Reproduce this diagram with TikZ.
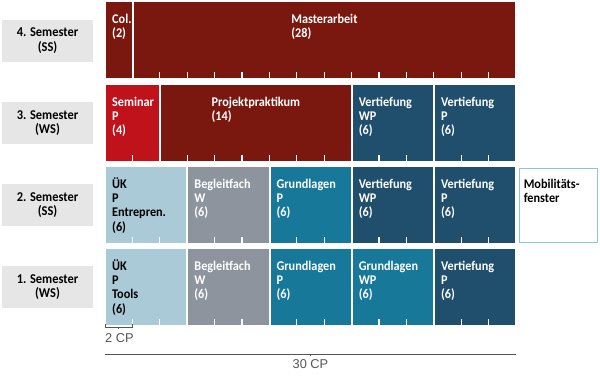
\documentclass[tikz,border=0pt]{standalone}
\usepackage{fontspec}
\usetikzlibrary{calc}
\setmainfont{Liberation Sans}
\newfontfamily\blkfont[FakeStretch=0.92]{Carlito}
\definecolor{mdarkred}{HTML}{7A180F}
\definecolor{mred}{HTML}{C0121A}
\definecolor{mlight}{HTML}{AACAD8}
\definecolor{mgray}{HTML}{8E949E}
\definecolor{mteal}{HTML}{17789A}
\definecolor{mnavy}{HTML}{1F4F6C}
\definecolor{mborder}{HTML}{8CC4DA}
\definecolor{mlabel}{HTML}{E6E6E6}
\definecolor{mline}{HTML}{555555}
\tikzset{
  blockbox/.style={draw=none, inner sep=0, minimum height=75.5pt, anchor=north west},
  blocktext/.style={inner sep=0, align=left, font=\blkfont\bfseries\fontsize{13.3}{14.3}\selectfont},
  semlabel/.style={fill=mlabel, inner sep=0, minimum width=91pt, minimum height=42pt, align=center,
    font=\blkfont\bfseries\fontsize{13.5}{14.8}\selectfont},
  tickline/.style={white, line width=1.3pt},
  scaleline/.style={mline, line width=0.9pt},
  scaletext/.style={text=mline, inner sep=0, font=\fontsize{12.8}{14}\selectfont}
}
\newcommand\cpblock[7]{%
  \node[blockbox, fill=#5, minimum width={(#4-#3)*13.7-2}] (#1) at ({105+#3*13.7+1}, #2) {};
  \node[blocktext, text=#6, anchor=north west] (#1-t) at ([xshift=6pt, yshift=-9.5pt]#1.north west) {\rule{0pt}{11.5pt}#7};
}
\newcommand\cpblockc[7]{%
  \node[blockbox, fill=#5, minimum width={(#4-#3)*13.7-2}] (#1) at ({105+#3*13.7+1}, #2) {};
  \node[blocktext, text=#6, anchor=north] (#1-t) at ([yshift=-9.5pt]#1.north) {\rule{0pt}{11.5pt}#7};
}
\begin{document}
\begin{tikzpicture}[x=1pt, y=-1pt]
\useasboundingbox (0,0) rectangle (600,380);

% semester labels
\node[semlabel] (s4) at (47.5,40.5) {4. Semester\\(SS)};
\node[semlabel] (s3) at (47.5,123) {3. Semester\\(WS)};
\node[semlabel] (s2) at (47.5,205) {2. Semester\\(SS)};
\node[semlabel] (s1) at (47.5,287) {1. Semester\\(WS)};

% row 4
\cpblock{col}{2}{0}{2}{mdarkred}{white}{Col.\\(2)}
\cpblockc{ma}{2}{2}{30}{mdarkred}{white}{Masterarbeit\\(28)}
\foreach \k in {4,6,...,28} \draw[tickline] ({105+\k*13.7},77.5) -- ++(0,-6);

% row 3
\cpblock{sem}{85}{0}{4}{mred}{white}{Seminar\\P\\(4)}
\cpblockc{pp}{85}{4}{18}{mdarkred}{white}{Projektpraktikum\\(14)}
\cpblock{v3a}{85}{18}{24}{mnavy}{white}{Vertiefung\\WP\\(6)}
\cpblock{v3b}{85}{24}{30}{mnavy}{white}{Vertiefung\\P\\(6)}
\foreach \k in {2,6,8,10,12,14,16,20,22,26,28} \draw[tickline] ({105+\k*13.7},160.5) -- ++(0,-6);

% row 2
\cpblock{uk2}{167}{0}{6}{mlight}{black}{ÜK\\P\\Entrepren.\\(6)}
\cpblock{bg2}{167}{6}{12}{mgray}{white}{Begleitfach\\W\\(6)}
\cpblock{gl2}{167}{12}{18}{mteal}{white}{Grundlagen\\P\\(6)}
\cpblock{v2a}{167}{18}{24}{mnavy}{white}{Vertiefung\\WP\\(6)}
\cpblock{v2b}{167}{24}{30}{mnavy}{white}{Vertiefung\\P\\(6)}
\node[blockbox, fill=white, draw=mborder, line width=1.2pt, minimum width=78pt, minimum height=74.5pt] (mob) at (518.6,167.6) {};
\node[blocktext, text=black, anchor=north west] (mob-t) at ([xshift=5pt, yshift=-8.9pt]mob.north west) {\rule{0pt}{11.5pt}Mobilitäts-\\fenster};
\foreach \k in {2,4,8,10,14,16,20,22,26,28} \draw[tickline] ({105+\k*13.7},242.5) -- ++(0,-6);

% row 1
\cpblock{uk1}{249}{0}{6}{mlight}{black}{ÜK\\P\\Tools\\(6)}
\cpblock{bg1}{249}{6}{12}{mgray}{white}{Begleitfach\\W\\(6)}
\cpblock{gl1}{249}{12}{18}{mteal}{white}{Grundlagen\\P\\(6)}
\cpblock{gl1b}{249}{18}{24}{mteal}{white}{Grundlagen\\WP\\(6)}
\cpblock{v1}{249}{24}{30}{mnavy}{white}{Vertiefung\\P\\(6)}
\foreach \k in {2,4,8,10,14,16,20,22,26,28} \draw[tickline] ({105+\k*13.7},324.5) -- ++(0,-6);

% scale
\coordinate (c2a) at (105,327);
\coordinate (c2b) at (132.4,327);
\draw[scaleline] ([yshift=3pt]c2a) -- (c2a) -- (c2b) -- ([yshift=3pt]c2b);
\draw[scaleline] ($(c2a)!0.5!(c2b)$) -- ++(0,1.5);
\node[scaletext, anchor=base west] (cp2) at (105,342) {2 CP};

\coordinate (c30a) at (105,354);
\coordinate (c30b) at (516,354);
\draw[scaleline] (c30a) -- (c30b);
\draw[scaleline] ($(c30a)!0.5!(c30b)$) -- ++(0,1.5);
\node[scaletext, anchor=base] (cp30) at (310.5,368) {30 CP};
\end{tikzpicture}
\end{document}
